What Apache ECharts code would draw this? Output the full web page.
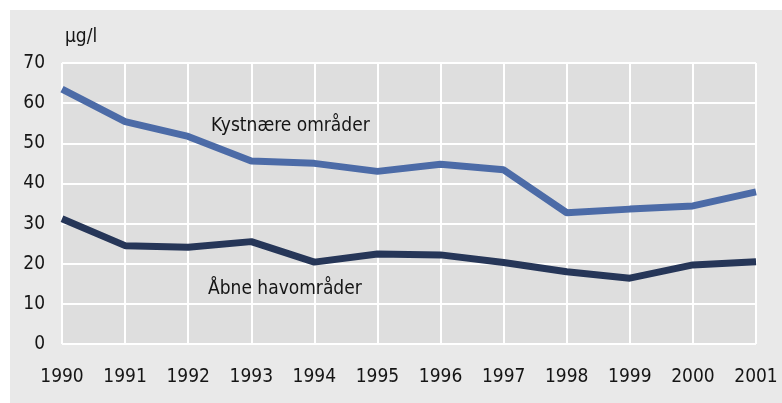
<!DOCTYPE html>
<html>
<head>
<meta charset="UTF-8">
<title>µg/l</title>
<script src="https://cdn.jsdelivr.net/npm/echarts@6/dist/echarts.min.js"></script>
<style>
body { margin:0; background:#fff; }
#main { position:absolute; left:10px; top:10px; width:772px; height:393px; background:#e9e9e9; }
</style>
</head>
<body>
<div id="main"></div>
<script>
// data
var years = ['1990','1991','1992','1993','1994','1995','1996','1997','1998','1999','2000','2001'];
var kyst = [63.5, 55.4, 51.7, 45.6, 45.0, 43.0, 44.8, 43.4, 32.7, 33.6, 34.4, 37.9];
var aabne = [31.2, 24.5, 24.1, 25.5, 20.4, 22.4, 22.2, 20.3, 18.0, 16.4, 19.7, 20.5];
var unit = 'µg/l';
var kystName = 'Kystnære områder';
var aabneName = 'Åbne havområder';

var font = '"DejaVu Sans Condensed", sans-serif';
var txt = '#151515';
var fs = 19;
var chart = echarts.init(document.getElementById('main'));
var option = {
    animation: false,
    textStyle: {fontFamily: font},
    grid: {left: 52, top: 53, right: 26, bottom: 59, show: true, backgroundColor: '#dedede', borderWidth: 0},
    xAxis: {
        type: 'category', boundaryGap: false, data: years,
        axisLine: {show: false}, axisTick: {show: false},
        axisLabel: {color: txt, fontSize: fs, margin: 24, fontFamily: font},
        splitLine: {show: true, lineStyle: {color: '#fff', width: 2}}
    },
    yAxis: {
        type: 'value', min: 0, max: 70, interval: 10,
        axisLine: {show: false}, axisTick: {show: false},
        axisLabel: {color: txt, fontSize: fs, margin: 17, fontFamily: font},
        splitLine: {show: true, lineStyle: {color: '#fff', width: 2}}
    },
    graphic: [
        {type: 'text', z: 100, x: 55, y: 27.5, style: {text: unit, fontSize: fs, fontFamily: font, fill: txt, verticalAlign: 'middle'}},
        {type: 'text', z: 100, x: 201, y: 116, style: {text: kystName, fontSize: fs, fontFamily: font, fill: txt, verticalAlign: 'middle'}},
        {type: 'text', z: 100, x: 198, y: 279, style: {text: aabneName, fontSize: fs, fontFamily: font, fill: txt, verticalAlign: 'middle'}}
    ],
    series: [
        {name: kystName, type: 'line', data: kyst, symbol: 'none', lineStyle: {color: '#4c6ba7', width: 7}},
        {name: aabneName, type: 'line', data: aabne, symbol: 'none', lineStyle: {color: '#263658', width: 7}}
    ]
};
chart.setOption(option);
</script>
</body>
</html>
